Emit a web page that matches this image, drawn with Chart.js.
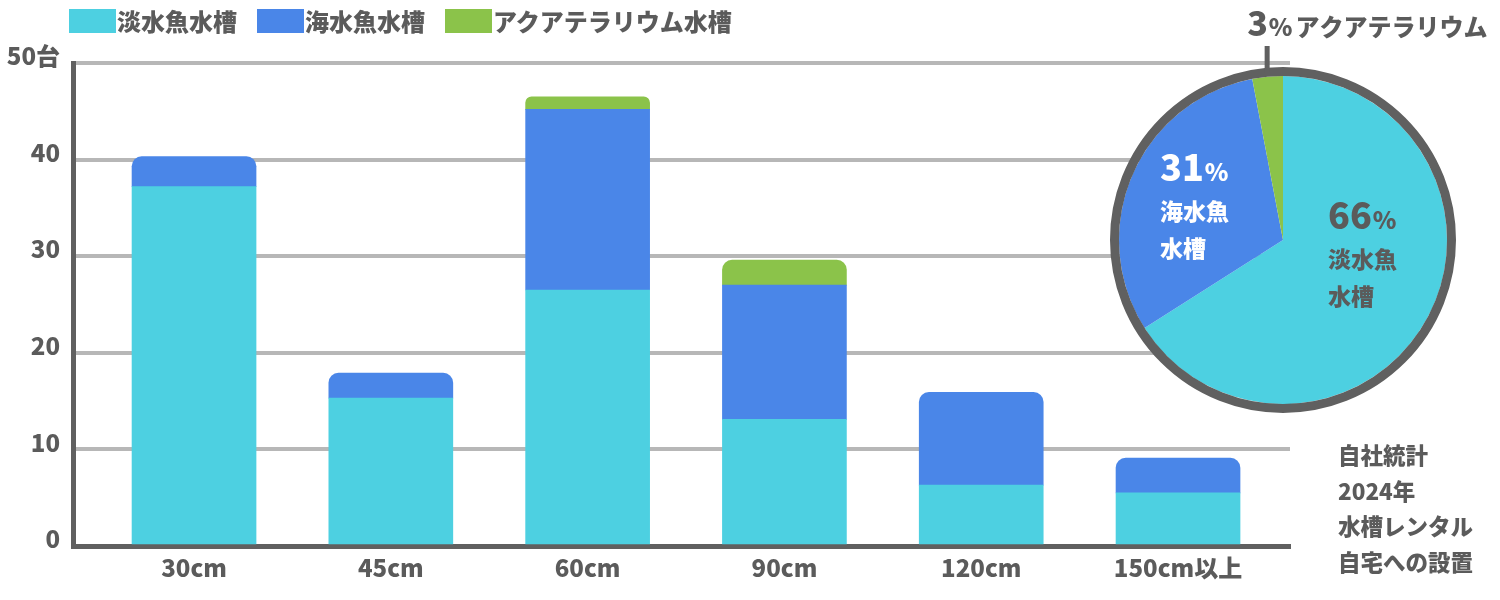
<!DOCTYPE html>
<html lang="ja">
<head>
<meta charset="utf-8">
<script src="https://cdn.jsdelivr.net/npm/chart.js@4.4.1/dist/chart.umd.min.js"></script>
<style>
  body { margin: 0; background: #fff; font-family: "Noto Sans CJK JP", sans-serif; font-weight: 900; color: #5b5b5b; }
  #wrap { position: relative; width: 1500px; height: 600px; overflow: hidden; }
  #bar-canvas { position: absolute; left: 0; top: 0; }
  #pie-canvas { position: absolute; left: 1090px; top: 0; }
  .legend { position: absolute; left: 69px; top: 9px; display: flex; }
  .legend-item { display: flex; align-items: center; margin-right: 20px; font-size: 24px; line-height: 24px; }
  .legend-box { width: 47px; height: 24px; margin-right: 1px; }
  .note { position: absolute; left: 1338px; top: 437px; font-size: 22.5px; line-height: 35.5px; }
</style>
</head>
<body>
<div id="wrap">
  <canvas id="bar-canvas" width="1500" height="600"></canvas>
  <canvas id="pie-canvas" width="410" height="420"></canvas>
  <div class="legend" id="legend"></div>
  <div class="note" id="note"></div>
</div>
<script>
// tank size categories and unit counts
const categories = ['30cm', '45cm', '60cm', '90cm', '120cm', '150cm以上']
const freshwater = [37.2, 15.3, 26.5, 13.1, 6.3, 5.5]
const marine = [3.1, 2.6, 18.7, 13.9, 9.6, 3.6]
const terrarium = [0, 0, 1.3, 2.6, 0, 0]
const seriesNames = ['淡水魚水槽', '海水魚水槽', 'アクアテラリウム水槽']
const seriesColors = ['#4dd0e1', '#4a86e8', '#8bc34a']
const yMax = 50
const yStep = 10
const yUnit = '台'

// share of all units, as printed on the pie
const pieNames = [['淡水魚', '水槽'], ['海水魚', '水槽'], ['アクアテラリウム']]
const pieShares = [66, 31, 3]

const noteLines = ['自社統計', '2024年', '水槽レンタル', '自宅への設置']

const textColor = '#5b5b5b'
const axisColor = '#606060'
const fontFamily = '"Noto Sans CJK JP", "Noto Sans", sans-serif'
const tickFont = { family: fontFamily, size: 24, weight: '900' }

const series = [freshwater, marine, terrarium]

function topRadius(ctx) {
    // only the topmost visible segment of each stack gets rounded corners
    const i = ctx.dataIndex
    const above = series.slice(ctx.datasetIndex + 1).some(s => s[i] > 0)
    return above ? 0 : { topLeft: 10, topRight: 10, bottomLeft: 0, bottomRight: 0 }
}

const barChart = new Chart(document.getElementById('bar-canvas'), {
    type: 'bar',
    data: {
        datasets: series.map((values, d) => ({
            label: seriesNames[d],
            data: values.map((v, i) => ({ x: i, y: v > 0 ? v : null })),
            backgroundColor: seriesColors[d],
            borderWidth: 0,
            borderRadius: topRadius,
            barThickness: 124
        }))
    },
    options: {
        responsive: false,
        animation: false,
        events: [],
        layout: { padding: { top: 63, right: 210, left: 0, bottom: 0 } },
        plugins: { legend: { display: false }, tooltip: { enabled: false } },
        scales: {
            x: {
                type: 'linear',
                min: -0.615,
                max: 5.569,
                offset: false,
                stacked: true,
                z: 1,
                grid: { display: false, drawTicks: false },
                border: { display: true, color: axisColor, width: 5 },
                ticks: {
                    stepSize: 1,
                    includeBounds: false,
                    padding: 7,
                    color: textColor,
                    font: tickFont,
                    callback: v => categories[v] ?? ''
                },
                afterFit(scale) { scale.height = 54 }
            },
            y: {
                min: 0,
                max: yMax,
                stacked: true,
                grid: { color: '#b7b7b7', lineWidth: 4, drawTicks: false },
                border: { color: axisColor, width: 5 },
                ticks: {
                    stepSize: yStep,
                    padding: 13,
                    labelOffset: -7,
                    color: textColor,
                    font: tickFont,
                    callback: v => v === yMax ? v + yUnit : v
                },
                afterFit(scale) { scale.width = 73 }
            }
        }
    }
})

// legend built from the datasets, like a DOM summary
const legend = document.getElementById('legend')
barChart.data.datasets.forEach(ds => {
    const item = document.createElement('div')
    item.classList.add('legend-item')
    item.innerHTML = `<span class="legend-box"></span><span>${ds.label}</span>`
    item.querySelector('.legend-box').style.background = ds.backgroundColor
    legend.appendChild(item)
})

const note = document.getElementById('note')
noteLines.forEach(line => {
    const div = document.createElement('div')
    div.textContent = line
    note.appendChild(div)
})

const pieDecor = {
    id: 'pieDecor',
    afterDraw(chart) {
        const ctx = chart.ctx
        const meta = chart.getDatasetMeta(0)
        const { x, y, outerRadius } = meta.data[0]
        ctx.save()
        // outer ring
        ctx.strokeStyle = axisColor
        ctx.lineWidth = 9
        ctx.beginPath()
        ctx.arc(x, y, outerRadius + 4.5, 0, Math.PI * 2)
        ctx.stroke()

        // leader line for the small slice
        const small = meta.data[2]
        const mid = (small.startAngle + small.endAngle) / 2
        const lx = x + Math.cos(mid) * (outerRadius + 4.5)
        const ly = y + Math.sin(mid) * (outerRadius + 4.5)
        ctx.lineWidth = 5
        ctx.beginPath()
        ctx.moveTo(lx, ly)
        ctx.lineTo(lx, 46)
        ctx.stroke()

        // label above the leader
        ctx.fillStyle = textColor
        ctx.textBaseline = 'alphabetic'
        ctx.textAlign = 'left'
        let tx = lx - 20
        ctx.font = `900 34px ${fontFamily}`
        ctx.fillText(String(pieShares[2]), tx, 36)
        tx += ctx.measureText(String(pieShares[2])).width + 1
        ctx.font = `900 24px ${fontFamily}`
        ctx.fillText('%', tx, 36)
        tx += ctx.measureText('%').width + 3
        ctx.fillText(pieNames[2][0], tx, 36)

        // labels inside the two big slices
        const inner = [
            { dx: 45, dy: -24, color: textColor },
            { dx: -123, dy: -72, color: '#ffffff' }
        ]
        inner.forEach((pos, i) => {
            const px = x + pos.dx
            const py = y + pos.dy
            ctx.fillStyle = pos.color
            ctx.font = `900 36px ${fontFamily}`
            const num = String(pieShares[i])
            ctx.fillText(num, px, py + 13)
            const w = ctx.measureText(num).width
            ctx.font = `900 24px ${fontFamily}`
            ctx.fillText('%', px + w + 1, py + 13)
            ctx.font = `900 23px ${fontFamily}`
            ctx.textBaseline = 'middle'
            pieNames[i].forEach((line, k) => {
                ctx.fillText(line, px, py + 43 + k * 37)
            })
            ctx.textBaseline = 'alphabetic'
        })
        ctx.restore()
    }
}

new Chart(document.getElementById('pie-canvas'), {
    type: 'pie',
    data: {
        labels: pieNames.map(n => n.join('')),
        datasets: [{
            data: pieShares,
            backgroundColor: seriesColors,
            borderWidth: 0,
            hoverOffset: 0
        }]
    },
    options: {
        responsive: false,
        animation: false,
        events: [],
        layout: { padding: { left: 29, right: 53, top: 76, bottom: 16 } },
        plugins: { legend: { display: false }, tooltip: { enabled: false } }
    },
    plugins: [pieDecor]
})
</script>
</body>
</html>
